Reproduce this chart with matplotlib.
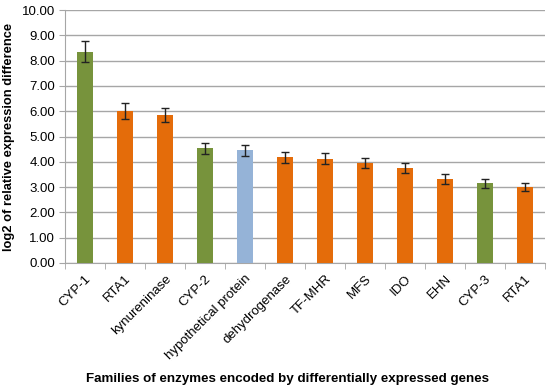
import numpy as np
import matplotlib
matplotlib.use("Agg")
import matplotlib.pyplot as plt

plt.rcParams['font.family'] = ['Liberation Sans', 'DejaVu Sans']

# data
genes = ['CYP-1', 'RTA1', 'kynureninase', 'CYP-2', 'hypothetical protein',
         'dehydrogenase', 'TF-MHR', 'MFS', 'IDO', 'EHN', 'CYP-3', 'RTA1']
log2_diff = [8.35, 6.01, 5.85, 4.53, 4.46, 4.18, 4.13, 3.96, 3.75, 3.32, 3.15, 3.00]
errors = [0.42, 0.30, 0.29, 0.23, 0.22, 0.21, 0.21, 0.21, 0.20, 0.19, 0.17, 0.17]
groups = ['cyp', 'other', 'other', 'cyp', 'hypo', 'other', 'other', 'other',
          'other', 'other', 'cyp', 'other']

group_colors = {'cyp': '#77933C', 'other': '#E46C0A', 'hypo': '#95B3D7'}
colors = [group_colors[g] for g in groups]

fig = plt.figure(figsize=(5.5, 3.89), dpi=100)
ax = fig.add_axes([0.118, 0.324, 0.873, 0.65])

x = np.arange(len(genes))
ax.bar(x, log2_diff, width=0.39, color=colors, zorder=3)
ax.errorbar(x, log2_diff, yerr=errors, fmt='none', ecolor='#222222',
            elinewidth=1.0, capsize=3, capthick=1.0, zorder=4)

ax.set_ylim(0, 10)
ax.set_xlim(-0.5, len(genes) - 0.5)
ax.set_yticks(np.arange(0, 11, 1))
ax.set_yticklabels([f'{v:.2f}' for v in np.arange(0, 11, 1)], fontsize=9.5)
ax.yaxis.grid(True, color='#A6A6A6', linewidth=1.0, zorder=0)

ax.set_xticks(x)
ax.set_xticklabels(genes, rotation=45, ha='right', rotation_mode='anchor', fontsize=9.5)
ax.tick_params(axis='x', length=0, pad=7)
ax.set_xticks(np.arange(-0.5, len(genes)), minor=True)
ax.tick_params(axis='x', which='minor', length=4, color='#A6A6A6', direction='out')
ax.tick_params(axis='y', length=4, color='#A6A6A6', pad=3)

for side in ['top', 'right']:
    ax.spines[side].set_visible(False)
for side in ['left', 'bottom']:
    ax.spines[side].set_color('#A6A6A6')

ax.set_ylabel('log2 of relative expression difference', fontsize=9.3, fontweight='bold',
              labelpad=5)
fig.text(0.522, 0.018, 'Families of enzymes encoded by differentially expressed genes',
         ha='center', fontsize=9.6, fontweight='bold')

fig.savefig('out.png', dpi=100)
